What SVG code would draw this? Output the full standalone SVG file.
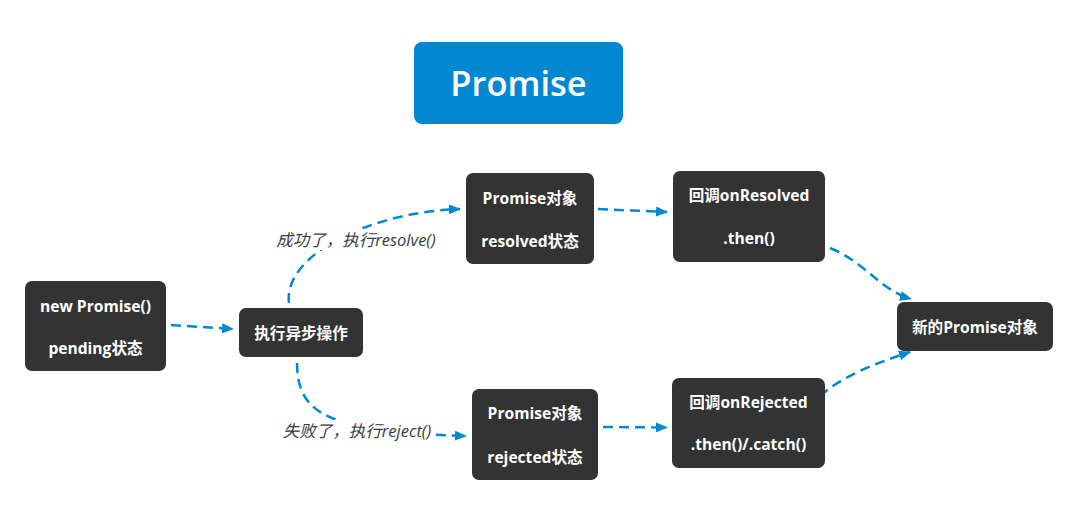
<svg xmlns="http://www.w3.org/2000/svg" width="1091" height="527" viewBox="0 0 1091 527">
<defs>
<style>
.node rect{fill:#333333;}
.nt{fill:#ffffff;font-family:"Open Sans","Noto Sans CJK SC",sans-serif;font-weight:bold;font-size:15.6px;text-anchor:middle;dominant-baseline:central;}
.title{fill:#ffffff;font-family:"Open Sans",sans-serif;font-weight:600;font-size:34.5px;text-anchor:middle;dominant-baseline:central;}
.edge{fill:none;stroke:#0288d1;stroke-width:2.5;stroke-dasharray:10 6;marker-end:url(#arr);}
.lbl{fill:#3a3a3a;font-family:"Open Sans","Noto Sans CJK SC",sans-serif;font-style:italic;font-size:16.5px;text-anchor:middle;dominant-baseline:central;}
</style>
<marker id="arr" viewBox="0 0 12 10" refX="11" refY="5" markerWidth="12" markerHeight="10" markerUnits="userSpaceOnUse" orient="auto">
<path d="M0,0 L12,5 L0,10 Z" fill="#0288d1"/>
</marker>
</defs>
<rect width="1091" height="527" fill="#ffffff"/>
<g id="title">
<rect x="414" y="42" width="209" height="82" rx="8" fill="#0288d1"/>
<text class="title" x="518.5" y="82">Promise</text>
</g>
<g id="connectors">
<path class="edge" d="M171,325 L233,329"/>
<path class="edge" d="M289,303 C283,255 370,212 460,209"/>
<path class="edge" d="M297,363 C297,415 330,432 466,436"/>
<path class="edge" d="M598,209 L667,212"/>
<path class="edge" d="M603,427 L667,427.5"/>
<path class="edge" d="M830,248 C865,262 880,290 911,299"/>
<path class="edge" d="M820,396 C840,378 870,365 910,352"/>
<g id="label-resolve">
<rect x="272" y="229" width="168" height="21" fill="#ffffff"/>
<text class="lbl" x="356" y="239">成功了，执行resolve()</text>
</g>
<g id="label-reject">
<rect x="279" y="420" width="157" height="21" fill="#ffffff"/>
<text class="lbl" x="357" y="430">失败了，执行reject()</text>
</g>
</g>
<g id="n-new" class="node">
<rect x="25" y="281" width="141" height="90" rx="7"/>
<text class="nt" x="95.5" y="306">new Promise()</text>
<text class="nt" x="95.5" y="348">pending状态</text>
</g>
<g id="n-exec" class="node">
<rect x="239" y="308" width="124" height="49" rx="7"/>
<text class="nt" x="301" y="332.5">执行异步操作</text>
</g>
<g id="n-resolved" class="node">
<rect x="466" y="173" width="128" height="91" rx="7"/>
<text class="nt" x="530" y="197.5">Promise对象</text>
<text class="nt" x="530" y="241">resolved状态</text>
</g>
<g id="n-onresolved" class="node">
<rect x="673" y="171" width="152" height="91" rx="7"/>
<text class="nt" x="749" y="195">回调onResolved</text>
<text class="nt" x="749" y="238">.then()</text>
</g>
<g id="n-rejected" class="node">
<rect x="472" y="389" width="126" height="91" rx="7"/>
<text class="nt" x="535" y="413">Promise对象</text>
<text class="nt" x="535" y="456.5">rejected状态</text>
</g>
<g id="n-onrejected" class="node">
<rect x="672" y="378" width="153" height="90" rx="7"/>
<text class="nt" x="748.5" y="402">回调onRejected</text>
<text class="nt" x="748.5" y="444">.then()/.catch()</text>
</g>
<g id="n-new-promise" class="node">
<rect x="897" y="302" width="156" height="49" rx="7"/>
<text class="nt" x="975" y="326.5">新的Promise对象</text>
</g>
</svg>
